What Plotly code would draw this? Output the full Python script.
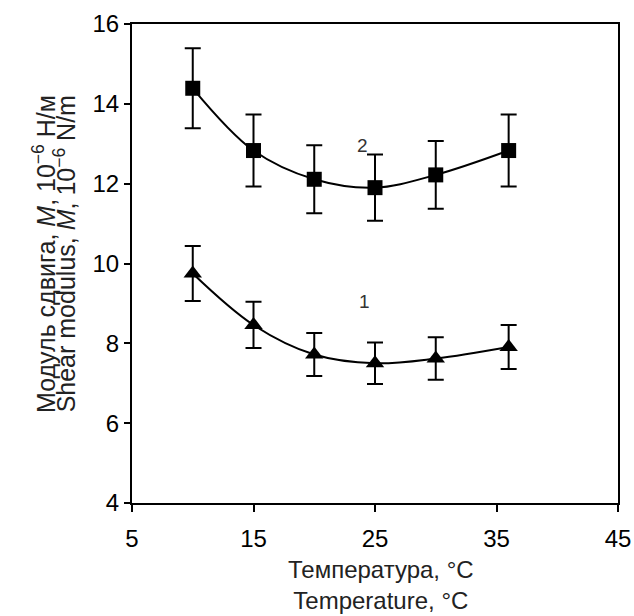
import plotly.graph_objects as go

# Data
temperature = [10, 15, 20, 25, 30, 36]
modulus_2 = [14.39, 12.83, 12.11, 11.90, 12.22, 12.83]
error_2 = [1.0, 0.9, 0.85, 0.83, 0.85, 0.9]
modulus_1 = [9.75, 8.46, 7.72, 7.50, 7.62, 7.91]
error_1 = [0.69, 0.58, 0.54, 0.52, 0.53, 0.55]

x_ticks = [5, 15, 25, 35, 45]
y_ticks = [4, 6, 8, 10, 12, 14, 16]

x_title = ["Температура, °C", "Temperature, °C"]
y_title = ["Модуль сдвига, <i>M</i>, 10<sup>−6</sup> Н/м",
           "Shear modulus, <i>M</i>, 10<sup>−6</sup> N/m"]
curve_labels = ["1", "2"]

FONT = "Liberation Sans, Arial, sans-serif"

fig = go.Figure()

fig.add_trace(go.Scatter(
    x=temperature, y=modulus_2, mode="lines+markers",
    line=dict(color="black", width=2, shape="spline", smoothing=1),
    marker=dict(symbol="square", size=15, color="black"),
    error_y=dict(type="data", array=error_2, visible=True,
                 color="black", thickness=2, width=8),
    showlegend=False,
))
fig.add_trace(go.Scatter(
    x=temperature, y=modulus_1, mode="lines+markers",
    line=dict(color="black", width=2, shape="spline", smoothing=1),
    marker=dict(symbol="triangle-up", size=16, color="black"),
    error_y=dict(type="data", array=error_1, visible=True,
                 color="black", thickness=2, width=8),
    showlegend=False,
))

x_title_font = dict(size=24, family=FONT, color="#222222")
y_title_font = dict(size=25, family=FONT, color="#222222")

fig.update_layout(
    width=634, height=616,
    margin=dict(l=132, r=16, t=24, b=113),
    paper_bgcolor="white", plot_bgcolor="white",
    font=dict(family=FONT, size=18, color="black"),
    xaxis=dict(
        range=[5, 45], tickvals=x_ticks, ticktext=[str(v) for v in x_ticks],
        showgrid=False, zeroline=False, automargin=False,
        showline=True, linecolor="black", linewidth=2, mirror=True,
        ticks="outside", ticklen=7, tickwidth=2, tickcolor="black",
        ticklabelstandoff=6,
        tickfont=dict(size=24, family=FONT, color="black"),
    ),
    yaxis=dict(
        range=[4, 16], tickvals=y_ticks, ticktext=[str(v) for v in y_ticks],
        showgrid=False, zeroline=False, automargin=False,
        showline=True, linecolor="black", linewidth=2, mirror=True,
        ticks="outside", ticklen=6, tickwidth=2, tickcolor="black",
        tickfont=dict(size=24, family=FONT, color="black"),
    ),
    annotations=[
        dict(x=24.0, y=12.95, xref="x", yref="y", text=curve_labels[1], showarrow=False,
             font=dict(size=19, family=FONT, color="#333333")),
        dict(x=24.1, y=9.04, xref="x", yref="y", text=curve_labels[0], showarrow=False,
             font=dict(size=19, family=FONT, color="#333333")),
        dict(x=0.512, y=-0.172, xref="paper", yref="paper", xanchor="center", yanchor="middle",
             text=x_title[0] + "<br>" + x_title[1], showarrow=False, font=x_title_font),
        dict(x=-0.181, y=0.52, xref="paper", yref="paper", xanchor="center", yanchor="middle",
             textangle=-90, text=y_title[0], showarrow=False, font=y_title_font),
        dict(x=-0.139, y=0.52, xref="paper", yref="paper", xanchor="center", yanchor="middle",
             textangle=-90, text=y_title[1], showarrow=False, font=y_title_font),
    ],
)

fig.write_html("out.html", config={"displayModeBar": False},
               post_script="document.body.style.margin='0';")
